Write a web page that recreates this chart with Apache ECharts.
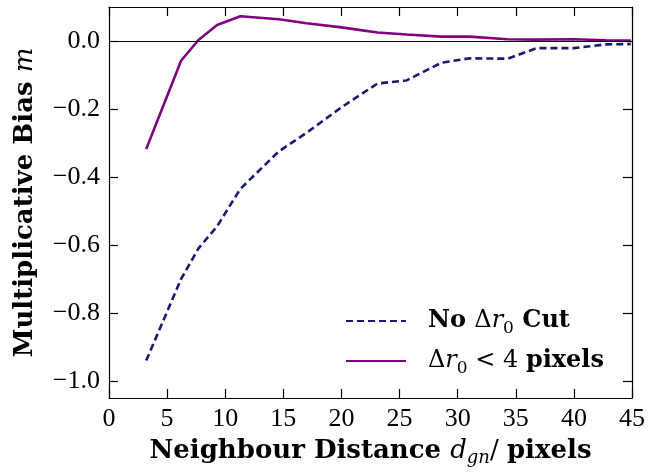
<!DOCTYPE html>
<html><head><meta charset="utf-8">
<script src="https://cdn.jsdelivr.net/npm/echarts@6/dist/echarts.min.js"></script>
<style>html,body{margin:0;padding:0;background:#fff}#c{width:648px;height:472px}</style>
</head><body><div id="c"></div>
<script>
// Data
const distance = [3.2, 6.2, 7.7, 9.3, 11.3, 14.6, 17.0, 20.0, 23.1, 25.6, 28.6, 31.0, 34.3, 36.8, 40.0, 42.7, 44.9];
const noCut    = [-0.94, -0.70, -0.61, -0.545, -0.435, -0.325, -0.27, -0.195, -0.125, -0.116, -0.064, -0.051, -0.052, -0.021, -0.021, -0.010, -0.009];
const cut4     = [-0.318, -0.058, 0.003, 0.047, 0.073, 0.064, 0.052, 0.040, 0.025, 0.019, 0.013, 0.013, 0.005, 0.004, 0.005, 0.002, 0.001];
const xTicks = [0, 5, 10, 15, 20, 25, 30, 35, 40, 45];
const yTicks = [-1.0, -0.8, -0.6, -0.4, -0.2, 0.0];
const seriesNames = ['No Δr0 Cut', 'Δr0 < 4 pixels'];

const BF = 'DejaVu Serif';
const TF = 'Liberation Serif';
function makeRich(fs, sub) {
  return {
    b:  {fontFamily: BF, fontWeight: 'bold', fontSize: fs, lineHeight: 32, color: '#000'},
    i:  {fontFamily: BF, fontStyle: 'italic', fontSize: fs, lineHeight: 32, color: '#000'},
    r:  {fontFamily: BF, fontSize: fs, lineHeight: 32, color: '#000'},
    s:  {fontFamily: BF, fontStyle: 'italic', fontSize: sub, lineHeight: 14, verticalAlign: 'bottom', color: '#000'},
    s0: {fontFamily: BF, fontSize: sub, lineHeight: 14, verticalAlign: 'bottom', color: '#000'}
  };
}
const richAxis = makeRich(26, 18);
const richLegend = makeRich(24, 17);

const chart = echarts.init(document.getElementById('c'), null, {renderer: 'canvas'});
const fmtY = v => (Math.abs(v) < 1e-9 ? '0.0' : v.toFixed(1).replace('-', '\u2212'));
const axisLine = {show: true, onZero: false, lineStyle: {color: '#000', width: 1.2}};
const tick = {show: true, inside: true, length: 9, lineStyle: {color: '#000', width: 1.2}};
const tickLabel = {fontFamily: TF, fontSize: 26, color: '#000'};

chart.setOption({
  animation: false,
  backgroundColor: '#fff',
  grid: {left: 109, right: 13, top: 7, bottom: 71, containLabel: false},
  legend: {
    orient: 'vertical', left: 345, top: 309, padding: 0,
    itemWidth: 60, itemHeight: 14, itemGap: 12,
    itemStyle: {opacity: 0},
    data: seriesNames,
    formatter: function (name) {
      if (name === seriesNames[0]) return '{b|No }{r|Δ}{i|r}{s0|0}{b| Cut}';
      return '{r|Δ}{i|r}{s0|0}{r| < 4 }{b|pixels}';
    },
    textStyle: {rich: richLegend, padding: [0, 0, 0, 17]}
  },
  xAxis: [{
    type: 'value', min: 0, max: 45, interval: 5, position: 'bottom',
    axisLine: axisLine, axisTick: tick, splitLine: {show: false},
    axisLabel: Object.assign({margin: 8, customValues: xTicks}, tickLabel),
    name: '{b|Neighbour Distance }{i|d}{s|gn}{r|/ }{b|pixels}',
    nameLocation: 'middle', nameGap: 37,
    nameTextStyle: {rich: richAxis}
  }, {
    type: 'value', min: 0, max: 45, interval: 5, position: 'top',
    axisLine: axisLine, axisTick: tick, splitLine: {show: false},
    axisLabel: {show: false}
  }],
  yAxis: [{
    type: 'value', min: -1.05, max: 0.1, position: 'left',
    axisLine: axisLine,
    axisTick: Object.assign({customValues: yTicks}, tick),
    splitLine: {show: false},
    axisLabel: Object.assign({margin: 9, customValues: yTicks, formatter: fmtY}, tickLabel),
    name: '{b|Multiplicative Bias }{i|m}',
    nameLocation: 'middle', nameGap: 68, nameRotate: 90,
    nameTextStyle: {rich: richAxis}
  }, {
    type: 'value', min: -1.05, max: 0.1, position: 'right',
    axisLine: axisLine,
    axisTick: Object.assign({customValues: yTicks}, tick),
    splitLine: {show: false},
    axisLabel: {show: false}
  }],
  series: [{
    name: seriesNames[0], type: 'line', xAxisIndex: 0, yAxisIndex: 0,
    data: distance.map((x, k) => [x, noCut[k]]),
    symbol: 'none', showSymbol: false,
    lineStyle: {color: '#191970', width: 2.6, type: [7, 4]},
    itemStyle: {color: '#191970'}, z: 3
  }, {
    name: seriesNames[1], type: 'line', xAxisIndex: 0, yAxisIndex: 0,
    data: distance.map((x, k) => [x, cut4[k]]),
    symbol: 'none', showSymbol: false,
    lineStyle: {color: '#800080', width: 2.6},
    itemStyle: {color: '#800080'}, z: 3,
    markLine: {
      silent: true, symbol: ['none', 'none'], label: {show: false},
      lineStyle: {color: '#000', type: 'solid', width: 1.2},
      emphasis: {disabled: true},
      data: [{yAxis: 0}]
    }
  }]
});
</script>
</body></html>
